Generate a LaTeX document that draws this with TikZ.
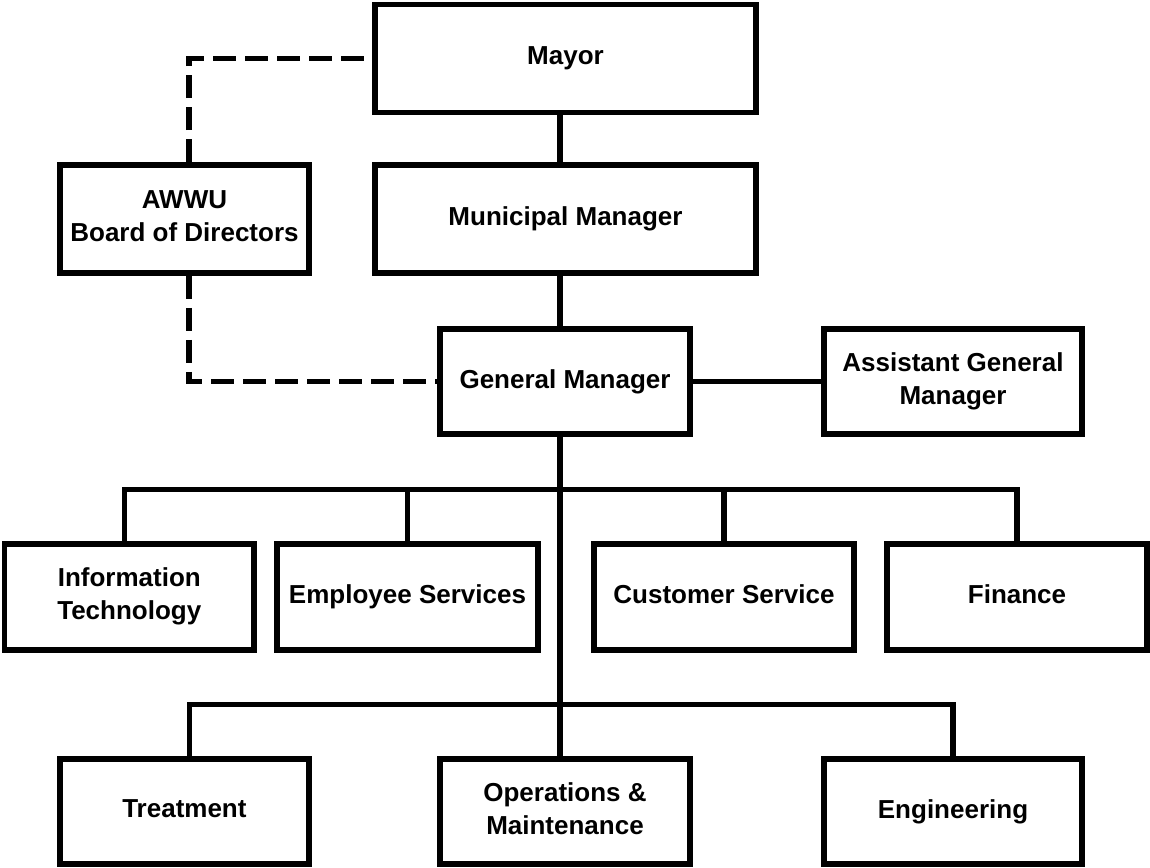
\documentclass[tikz,border=0pt]{standalone}
\usepackage{fontspec}
\setmainfont{Liberation Sans}
\usepackage{tikz}

\begin{document}
\begin{tikzpicture}[x=1pt, y=-1pt,
    box/.style={draw, line width=5.7pt, inner sep=0pt, align=center,
      minimum height=106pt, font=\fontsize{26}{33}\selectfont\bfseries,
      execute at begin node={\vphantom{Ag}}, execute at end node={\vphantom{g}}},
    link/.style={line width=5.7pt},
    dashlink/.style={line width=5.7pt, dash pattern=on 23pt off 9pt}]
    \useasboundingbox (0,0) rectangle (1150,867);

    % Top levels
    \node[box, minimum width=381pt, minimum height=108pt] (mayor) at (565.5,58.5) {Mayor};
    \node[box, minimum width=381pt, minimum height=108pt] (mm) at (565.5,219) {Municipal Manager};
    \node[box, minimum width=249pt, minimum height=108pt] (awwu) at (184.5,219) {AWWU\\Board of Directors};
    \node[box, minimum width=250pt, minimum height=105pt] (gm) at (565,381.5) {General Manager};
    \node[box, minimum width=258pt, minimum height=105pt] (agm) at (953,381.5) {Assistant General\\Manager};

    % Divisions
    \node[box, minimum width=249.5pt] (it) at (129.3,596.7) {Information\\Technology};
    \node[box, minimum width=261pt] (es) at (407.5,596.7) {Employee Services};
    \node[box, minimum width=260pt] (cs) at (724,596.7) {Customer Service};
    \node[box, minimum width=260pt] (fin) at (1017,596.7) {Finance};

    \node[box, minimum width=249pt, minimum height=105pt] (treat) at (184.4,811.4) {Treatment};
    \node[box, minimum width=250pt, minimum height=105pt] (om) at (565,811.4) {Operations \&\\Maintenance};
    \node[box, minimum width=258pt, minimum height=105pt] (eng) at (953,811.4) {Engineering};

    % Line coordinates
    \coordinate (spine) at (560,0);
    \coordinate (side) at (189,0);
    \coordinate (itup) at (124.5,489.5);
    \coordinate (trup) at (189.5,704.5);

    % Solid lines
    \draw[link] (spine |- mayor.south) -- (spine |- mm.north);
    \draw[link] (spine |- mm.south) -- (spine |- gm.north);
    \draw[link] (gm.east) -- (agm.west);
    \draw[link] (spine |- gm.south) -- (spine |- om.north);
    \draw[link] (itup |- it.north) -- (itup) -- (fin.north |- itup) -- (fin.north);
    \draw[link] (es.north |- itup) -- (es.north);
    \draw[link] (cs.north |- itup) -- (cs.north);
    \draw[link] (trup |- treat.north) -- (trup) -- (eng.north |- trup) -- (eng.north);

    % Dashed lines
    \draw[dashlink] (side |- awwu.north) -- (side |- mayor.west) -- (mayor.west);
    \draw[dashlink] (side |- awwu.south) -- (side |- gm.west) -- (gm.west);
\end{tikzpicture}
\end{document}
